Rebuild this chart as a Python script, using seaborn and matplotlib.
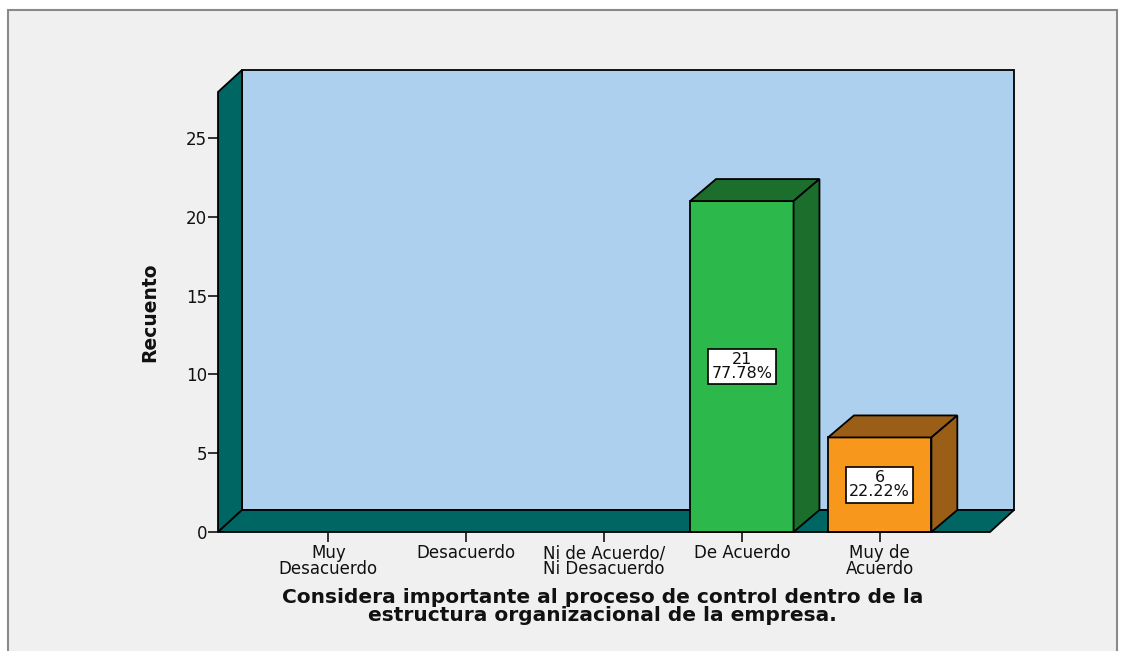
import matplotlib
matplotlib.use("Agg")
import matplotlib.pyplot as plt
from matplotlib.patches import Polygon, Rectangle
import seaborn as sns

categories = ["Muy\nDesacuerdo", "Desacuerdo", "Ni de Acuerdo/\nNi Desacuerdo",
              "De Acuerdo", "Muy de\nAcuerdo"]
counts = [0, 0, 0, 21, 6]
front_colors = ["#2DB84B", "#2DB84B", "#2DB84B", "#2DB84B", "#F7981D"]
dark_colors = ["#1C6E2D", "#1C6E2D", "#1C6E2D", "#1C6E2D", "#9A5E17"]
y_ticks = [0, 5, 10, 15, 20, 25]
x_title = "Considera importante al proceso de control dentro de la\nestructura organizacional de la empresa."
y_title = "Recuento"

sns.set_theme(style="white")
plt.rcParams["font.family"] = ["DejaVu Sans"]

W, H = 1121, 651
fig = plt.figure(figsize=(W / 100, H / 100), dpi=100, facecolor="white")
# grey outer frame like the SPSS viewer
fig.patches.append(Rectangle((8 / W, -0.01), (1117 - 8) / W, 1 - 10 / H + 0.01,
                             transform=fig.transFigure, fc="#F0F0F0", ec="#8A8A8A",
                             lw=1.5, zorder=-10))

ax = fig.add_axes([218 / W, (H - 532) / H, 772 / W, 440 / H])
ax.patch.set_visible(False)

x0, x1 = -0.8, 4.8
top = 27.92
dx, dy = 0.174, 1.396

# back wall, left wall, floor
ax.add_patch(Polygon([(x0 + dx, dy), (x1 + dx, dy), (x1 + dx, top + dy), (x0 + dx, top + dy)],
                     closed=True, fc="#ADD0EE", ec="black", lw=1.3, zorder=0.5, clip_on=False))
ax.add_patch(Polygon([(x0, 0), (x0, top), (x0 + dx, top + dy), (x0 + dx, dy)],
                     closed=True, fc="#006663", ec="black", lw=1.3, zorder=0.6, clip_on=False))
ax.add_patch(Polygon([(x0, 0), (x1, 0), (x1 + dx, dy), (x0 + dx, dy)],
                     closed=True, fc="#006663", ec="black", lw=1.3, zorder=0.6, clip_on=False))

sns.barplot(x=categories, y=counts, hue=categories, palette=front_colors, width=0.75,
            saturation=1, edgecolor="black", linewidth=1.3, legend=False, ax=ax)

total = sum(counts)
bars = [p for p in ax.patches if isinstance(p, Rectangle)]
for patch, n, dark in zip(bars, counts, dark_colors):
    patch.set_zorder(3)
    patch.set_clip_on(False)
    h = patch.get_height()
    if h <= 0:
        patch.set_linewidth(0)
        continue
    bx, bw = patch.get_x(), patch.get_width()
    ddx = dx * 1.08
    # top and side faces of the 3D bar
    ax.add_patch(Polygon([(bx, h), (bx + bw, h), (bx + bw + ddx, h + dy), (bx + ddx, h + dy)],
                         closed=True, fc=dark, ec="black", lw=1.3, zorder=3, clip_on=False))
    ax.add_patch(Polygon([(bx + bw, 0), (bx + bw + ddx, dy), (bx + bw + ddx, h + dy), (bx + bw, h)],
                         closed=True, fc=dark, ec="black", lw=1.3, zorder=3, clip_on=False))
    ax.text(bx + bw / 2, h / 2, f"{n}\n{n / total * 100:.2f}%", ha="center", va="center",
            fontsize=11.5, linespacing=0.95, color="#111111", zorder=5,
            bbox=dict(boxstyle="square,pad=0.2", fc="white", ec="black", lw=1.2))

ax.set_xlim(x0, x1)
ax.set_ylim(0, top)
ax.set_yticks(y_ticks)
for s in ax.spines.values():
    s.set_visible(False)
ax.tick_params(axis="y", left=True, length=7, width=1.2, labelsize=12, pad=1, colors="#111111")
ax.tick_params(axis="x", bottom=True, length=7, width=1.2, labelsize=12, pad=2, colors="#111111")
for lbl in ax.get_xticklabels():
    lbl.set_linespacing(0.85)

ax.set_xlabel(x_title, fontsize=14.5, fontweight="bold", linespacing=0.95, color="#111111")
ax.set_ylabel(y_title, fontsize=13.5, fontweight="bold", color="#111111")
ax.yaxis.set_label_coords(-0.088, 0.5)
ax.xaxis.set_label_coords(0.498, -0.170)
ax.xaxis.label.set_va("center")
ax.yaxis.label.set_va("center")

fig.savefig("out.png", dpi=100, facecolor=fig.get_facecolor())
